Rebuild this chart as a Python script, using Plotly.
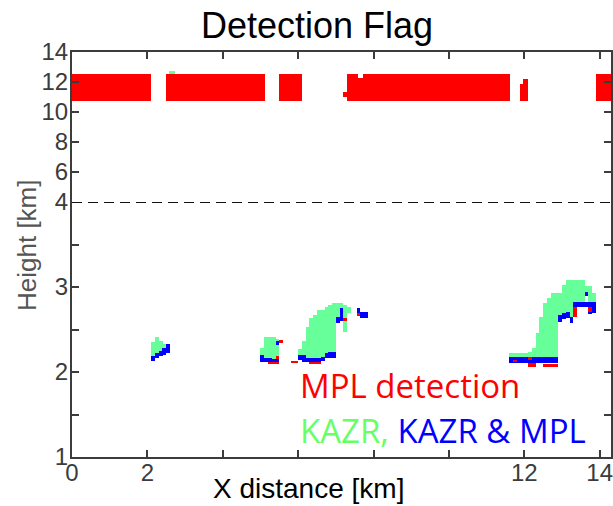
import plotly.graph_objects as go

# ---------------- data (km) ----------------
# lower panel (1-4 km): columns as (x_center, bottom, top), column width 0.1 km
COL_W = 0.1
KAZR_ONLY = [  # green
    (2.15, 2.19, 2.35), (2.25, 2.22, 2.41), (2.35, 2.25, 2.37), (2.45, 2.28, 2.33),
    (5.05, 2.20, 2.28), (5.15, 2.16, 2.41), (5.25, 2.16, 2.41), (5.35, 2.15, 2.41), (5.45, 2.19, 2.39),
    (6.05, 2.20, 2.27), (6.15, 2.20, 2.36), (6.25, 2.16, 2.53), (6.35, 2.17, 2.64), (6.45, 2.17, 2.67),
    (6.55, 2.17, 2.73), (6.65, 2.18, 2.73), (6.75, 2.22, 2.76), (6.85, 2.23, 2.79), (6.95, 2.23, 2.81),
    (7.05, 2.65, 2.81), (7.15, 2.75, 2.81), (7.25, 2.47, 2.79), (7.35, 2.70, 2.76),
    (11.65, 2.18, 2.22), (11.75, 2.18, 2.22), (11.85, 2.18, 2.22), (11.95, 2.18, 2.22),
    (12.05, 2.18, 2.22), (12.15, 2.18, 2.24), (12.25, 2.18, 2.28), (12.35, 2.18, 2.46),
    (12.45, 2.18, 2.65), (12.55, 2.18, 2.81), (12.65, 2.18, 2.87), (12.75, 2.18, 2.93),
    (12.85, 2.18, 2.93), (12.95, 2.67, 2.93), (13.05, 2.69, 3.02), (13.15, 2.71, 3.08),
    (13.25, 2.65, 3.08), (13.35, 2.82, 3.08), (13.45, 2.82, 3.08), (13.55, 2.82, 3.08),
    (13.65, 2.94, 3.01), (13.75, 2.82, 3.01), (13.85, 2.82, 2.93),
]
KAZR_MPL = [  # blue
    (2.15, 2.13, 2.19), (2.25, 2.17, 2.22), (2.35, 2.19, 2.25), (2.45, 2.20, 2.28), (2.55, 2.22, 2.33),
    (5.05, 2.12, 2.20), (5.15, 2.12, 2.16), (5.25, 2.12, 2.16), (5.35, 2.12, 2.15),
    (5.45, 2.12, 2.15), (5.45, 2.32, 2.36),
    (6.05, 2.14, 2.20), (6.15, 2.12, 2.20), (6.25, 2.12, 2.16), (6.35, 2.12, 2.17), (6.45, 2.12, 2.17),
    (6.55, 2.12, 2.17), (6.65, 2.13, 2.18), (6.75, 2.16, 2.22), (6.85, 2.17, 2.23), (6.95, 2.17, 2.23),
    (7.05, 2.58, 2.65), (7.15, 2.60, 2.75), (7.60, 2.70, 2.75), (7.70, 2.64, 2.71), (7.80, 2.64, 2.71),
    (11.65, 2.11, 2.18), (11.75, 2.11, 2.18), (11.85, 2.11, 2.18), (11.95, 2.11, 2.18),
    (12.05, 2.11, 2.18), (12.15, 2.11, 2.18), (12.25, 2.11, 2.18), (12.35, 2.11, 2.18),
    (12.45, 2.11, 2.18), (12.55, 2.11, 2.18), (12.65, 2.11, 2.18), (12.75, 2.11, 2.18),
    (12.85, 2.11, 2.18),
    (12.95, 2.59, 2.67), (13.05, 2.62, 2.69), (13.15, 2.64, 2.71), (13.25, 2.58, 2.65),
    (13.35, 2.76, 2.82), (13.45, 2.76, 2.82), (13.55, 2.76, 2.82), (13.65, 2.76, 2.82),
    (13.65, 2.90, 2.94), (13.75, 2.76, 2.82), (13.75, 2.69, 2.71), (13.85, 2.69, 2.82),
]
MPL_ONLY_LOW = [  # red
    (5.25, 2.09, 2.12), (5.35, 2.09, 2.12), (5.45, 2.09, 2.12), (5.45, 2.15, 2.19), (5.55, 2.34, 2.38),
    (5.85, 2.11, 2.13), (5.95, 2.11, 2.13), (6.35, 2.09, 2.12), (6.45, 2.09, 2.12), (6.55, 2.09, 2.12),
    (7.25, 2.60, 2.64), (7.60, 2.66, 2.70),
    (11.75, 2.12, 2.14), (12.15, 2.14, 2.18), (12.15, 2.06, 2.11), (12.25, 2.06, 2.11),
    (12.55, 2.06, 2.10), (12.65, 2.06, 2.10), (12.75, 2.06, 2.10), (12.85, 2.06, 2.10),
    (13.35, 2.65, 2.76), (13.75, 2.71, 2.76),
]
# upper panel (4-14 km): blocks as (x_start, x_end, bottom, top)
MPL_ONLY_HIGH = [
    (0.00, 2.09, 10.73, 12.53), (2.49, 5.12, 10.73, 12.53), (5.49, 6.10, 10.73, 12.53),
    (7.29, 7.58, 10.73, 12.53), (7.58, 7.72, 10.73, 12.27), (7.72, 11.61, 10.73, 12.53),
    (7.19, 7.29, 11.02, 11.35), (11.88, 11.96, 10.73, 11.87), (11.96, 12.09, 10.73, 12.20),
    (13.90, 14.30, 10.73, 12.53),
]
KAZR_ONLY_HIGH = [(2.57, 2.73, 12.53, 12.73)]

X_TICKS = [0, 2, 4, 6, 8, 10, 12, 14]
X_TICKTEXT = ["0", "2", "", "", "", "", "12", "14"]
Y_LOW_TICKS = [1, 1.5, 2, 2.5, 3, 3.5, 4]
Y_LOW_TEXT = ["1", "", "2", "", "3", "", "4"]
Y_HIGH_TICKS = [4, 6, 8, 10, 12, 14]
Y_HIGH_TEXT = ["", "6", "8", "10", "12", "14"]

RED = "#ff0000"
GREEN = "#66ff99"
BLUE = "#0000ff"
AXC = "#3c3c3c"
FONT = "Liberation Sans, Arial, sans-serif"

fig = go.Figure()


def col_bars(cols, color, xa, ya):
    fig.add_trace(go.Bar(
        x=[c[0] for c in cols], base=[c[1] for c in cols], y=[c[2] - c[1] for c in cols],
        width=[COL_W * 1.02] * len(cols), marker=dict(color=color, line=dict(width=0)),
        xaxis=xa, yaxis=ya, showlegend=False, hoverinfo="skip"))


def block_bars(blocks, color, xa, ya):
    fig.add_trace(go.Bar(
        x=[(b[0] + b[1]) / 2 for b in blocks], width=[b[1] - b[0] for b in blocks],
        base=[b[2] for b in blocks], y=[b[3] - b[2] for b in blocks],
        marker=dict(color=color, line=dict(width=0)),
        xaxis=xa, yaxis=ya, showlegend=False, hoverinfo="skip"))


col_bars(KAZR_ONLY, GREEN, "x", "y")
col_bars(KAZR_MPL, BLUE, "x", "y")
col_bars(MPL_ONLY_LOW, RED, "x", "y")
block_bars(MPL_ONLY_HIGH, RED, "x2", "y2")
block_bars(KAZR_ONLY_HIGH, GREEN, "x2", "y2")

W, H = 613, 506
L, R, T, B = 72, 2, 52, 49
PW, PH = W - L - R, H - T - B
split = (457 - 202) / PH


def px(xp):
    return (xp - L) / PW


def py(yp):
    return (H - B - yp) / PH


tickfont = dict(family=FONT, size=24, color=AXC)
common_axis = dict(showgrid=False, zeroline=False, showline=True, linecolor=AXC, linewidth=2,
                   ticks="inside", ticklen=7, tickwidth=2, tickcolor=AXC, tickfont=tickfont,
                   automargin=False, ticklabeloverflow="allow")

fig.update_layout(
    width=W, height=H,
    margin=dict(l=L, r=R, t=T, b=B, autoexpand=False),
    paper_bgcolor="white", plot_bgcolor="white",
    barmode="overlay", bargap=0,
    xaxis=dict(common_axis, range=[0, 14.3], anchor="y", domain=[0, 1],
               tickvals=X_TICKS, ticktext=X_TICKTEXT, mirror=False, ticklabelstandoff=-7),
    xaxis2=dict(common_axis, range=[0, 14.3], anchor="y2", domain=[0, 1], matches="x",
                side="top", tickvals=X_TICKS, showticklabels=False, mirror=False),
    yaxis=dict(common_axis, range=[1, 4], domain=[0, split], anchor="x",
               tickvals=Y_LOW_TICKS, ticktext=Y_LOW_TEXT, mirror="ticks", ticklabelstandoff=-3),
    yaxis2=dict(common_axis, range=[4, 14], domain=[split, 1], anchor="x2",
                tickvals=Y_HIGH_TICKS, ticktext=Y_HIGH_TEXT, mirror="ticks", ticklabelstandoff=-3),
)

# dashed separator at 4 km
fig.add_shape(type="line", xref="paper", yref="y", x0=0, x1=1, y0=4, y1=4,
              line=dict(color="#111111", width=2, dash="10px,6px"))

# title and axis titles
fig.add_annotation(text="Detection Flag", xref="paper", yref="paper", x=px(317), y=py(26),
                   xanchor="center", yanchor="middle", showarrow=False,
                   font=dict(family=FONT, size=36, color="black"))
fig.add_annotation(text="X distance [km]", xref="paper", yref="paper", x=px(308), y=py(488),
                   xanchor="center", yanchor="middle", showarrow=False,
                   font=dict(family=FONT, size=28, color="black"))
fig.add_annotation(text="Height [km]", xref="paper", yref="paper", x=px(27), y=py(245),
                   xanchor="center", yanchor="middle", textangle=-90, showarrow=False,
                   font=dict(family=FONT, size=26, color="#555555"))

lf = "Open Sans, Noto Sans, sans-serif"
fig.add_annotation(text="MPL detection", xref="paper", yref="paper", x=px(298), y=py(385),
                   xanchor="left", yanchor="middle", showarrow=False,
                   font=dict(family=lf, size=33, color=RED))
fig.add_annotation(text=f"<span style='color:#66ff66'>KAZR,</span> <span style='color:{BLUE}'>KAZR &amp; MPL</span>",
                   xref="paper", yref="paper", x=px(298), y=py(430),
                   xanchor="left", yanchor="middle", showarrow=False,
                   font=dict(family=lf, size=33, color=BLUE))

fig.write_html("out.html", config={"displayModeBar": False},
               post_script="document.body.style.margin='0px';")
